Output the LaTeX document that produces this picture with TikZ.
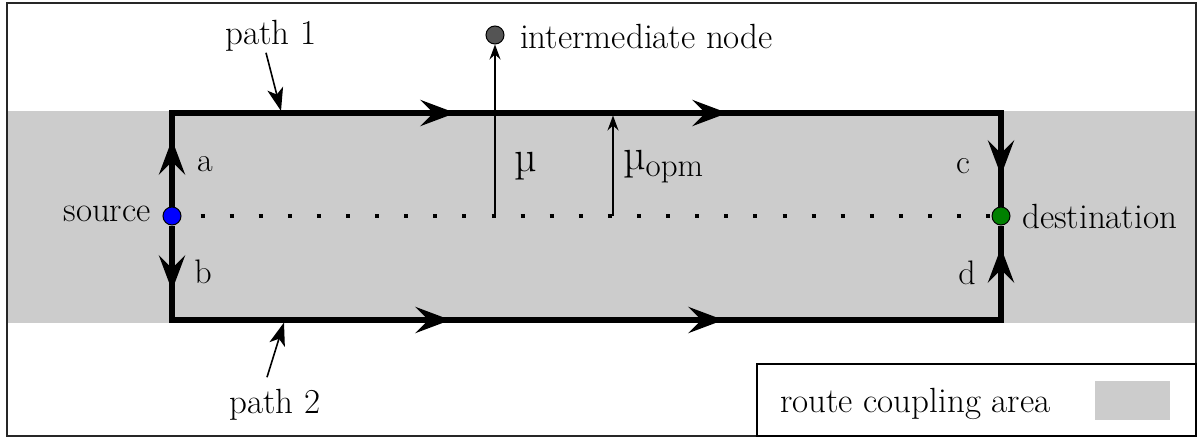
\documentclass[tikz,border=0pt]{standalone}
\usepackage{fontspec}
\usetikzlibrary{arrows.meta,decorations.markings,backgrounds,calc}

\tikzset{
  bighead/.tip={Stealth[length=35pt,width=26pt,inset=13pt]},
  smallhead/.tip={Stealth[length=15pt,width=11pt,inset=5pt]},
  pointhead/.tip={Stealth[length=23pt,width=16pt,inset=6pt]},
}

\begin{document}
\begin{tikzpicture}[x=1pt,y=-1pt,
  txt/.style={font=\rmfamily\fontsize{35}{42}\selectfont, inner sep=0pt},
  lbl/.style={font=\rmfamily\fontsize{34}{40}\selectfont, inner sep=0pt},
  endpoint/.style={circle, draw=black, line width=1pt, minimum size=18pt, inner sep=0pt},
  route/.style={line width=5.5pt, line join=miter, postaction=decorate},
  pointer/.style={line width=1.6pt, -pointhead},
  measure/.style={line width=1.4pt, -smallhead},
  dotline/.style={line width=4pt, dash pattern=on 4pt off 25.1pt, dash phase=10.1pt},
]
\useasboundingbox (0,0) rectangle (1197,439);

% end points and the relay
\node[endpoint, fill=blue] (src) at (172,216) {};
\node[endpoint, fill=green!50!black] (dst) at (1001,216) {};
\node[endpoint, fill=black!67] (mid) at (495,35) {};

% corners of the two routes
\coordinate (tl) at (172,113);
\coordinate (tr) at (1001,113);
\coordinate (bl) at (172,320);
\coordinate (br) at (1001,320);

\begin{scope}[on background layer]
  % outer frame and coupling band
  \draw[line width=2pt, draw=black!85] (7,3) rectangle (1196,436);
  \fill[black!20] (8,111) rectangle (1195,323);
  % route 1 (upper)
  \draw[route, decoration={markings,
      mark=at position 67pt with {\arrow{bighead}},
      mark=at position 377pt with {\arrow{bighead}},
      mark=at position 649pt with {\arrow{bighead}},
      mark=at position 985pt with {\arrow{bighead}}}]
    (src) -- (tl) -- (tr) -- (dst);
  % route 2 (lower)
  \draw[route, decoration={markings,
      mark=at position 65pt with {\arrow{bighead}},
      mark=at position 373pt with {\arrow{bighead}},
      mark=at position 646pt with {\arrow{bighead}},
      mark=at position 996pt with {\arrow{bighead}}}]
    (src) -- (bl) -- (br) -- (dst);
  % straight line between source and destination
  \draw[dotline] (src) -- (dst);
\end{scope}

% distances to the straight line
\coordinate (mubase) at (495,216);
\coordinate (opmbase) at (613,216);
\coordinate (opmtop) at (613,115.5);
\draw[measure] (mubase) -- (mid);
\draw[measure] (opmbase) -- (opmtop);
\node[inner sep=0pt, font=\rmfamily\fontsize{44}{46}\selectfont] (mu) at (526,166) {µ};
\node[inner sep=0pt, anchor=west] (muopm) at (623,167)
  {{\rmfamily\fontsize{44}{46}\selectfont µ}{\rmfamily\fontsize{33}{36}\selectfont\raisebox{-7pt}{opm}}};

% labels
\node[txt, anchor=east] (srclbl) at (151,214) {source};
\node[txt, anchor=west] (dstlbl) at (1022,216) {destination};
\node[txt, anchor=west] (midlbl) at (520,36) {intermediate node};
\node[lbl] (la) at (205,164) {a};
\node[lbl] (lb) at (203,272) {b};
\node[lbl] (lc) at (963,166) {c};
\node[lbl] (ld) at (967,273) {d};

% route names with pointers
\node[txt] (p1) at (271,36) {path 1};
\node[txt] (p2) at (275,405) {path 2};
\coordinate (p1tip) at (281,111);
\coordinate (p2tip) at (284,322.5);
\draw[pointer] ($(p1.south)+(-5,1)$) -- (p1tip);
\draw[pointer] ($(p2.north)+(-8,-12)$) -- (p2tip);

% legend
\draw[line width=2pt] (757,364) rectangle (1196,436);
\node[txt, anchor=west] (leg) at (780,404) {route coupling area};
\fill[black!20] (1095,381) rectangle (1170,420);
\end{tikzpicture}
\end{document}
